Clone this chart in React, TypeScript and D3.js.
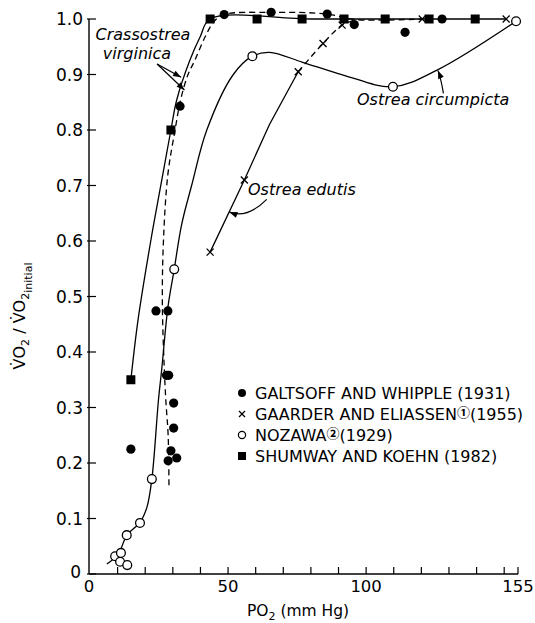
import React from 'react';
import * as d3 from 'd3';

const W = 535;
const H = 623;

// Tick values / labels
const xMajorTicks = [0, 50, 100, 155];
const xMajorLabels = ['0', '50', '100', '155'];
const xMinorTicks = [10, 20, 30, 40, 50, 60, 70, 80, 90, 100, 110, 120, 130, 140, 150, 155];
const yTicks = [0, 0.1, 0.2, 0.3, 0.4, 0.5, 0.6, 0.7, 0.8, 0.9, 1.0];
const yTickLabels = ['0', '0.1', '0.2', '0.3', '0.4', '0.5', '0.6', '0.7', '0.8', '0.9', '1.0'];

// Data points [PO2, VO2/VO2initial]
const galtsoff: [number, number][] = [
  [14.8, 0.225], [23.9, 0.474], [28.2, 0.474], [27.7, 0.358], [28.5, 0.358],
  [30.3, 0.308], [30.3, 0.263], [29.3, 0.222], [28.3, 0.204], [31.4, 0.209],
  [32.6, 0.843], [48.6, 1.008], [65.6, 1.012], [85.9, 1.009], [95.7, 0.99],
  [114.1, 0.976], [127.5, 1.0],
];
const gaarder: [number, number][] = [
  [43.5, 0.58], [55.9, 0.71], [75.4, 0.905], [84.4, 0.956], [91.3, 0.989],
  [120.3, 1.0], [150.7, 1.0],
];
const nozawa: [number, number][] = [
  [9.1, 0.032], [10.9, 0.022], [11.2, 0.038], [13.3, 0.07], [13.5, 0.016],
  [18.1, 0.092], [22.4, 0.171], [30.5, 0.549], [58.8, 0.933], [109.7, 0.878],
  [154.3, 0.996],
];
const shumway: [number, number][] = [
  [14.8, 0.35], [29.3, 0.8], [43.5, 1.0], [60.5, 1.0], [76.8, 1.0], [92, 1.0],
  [106.9, 1.0], [122.8, 1.0], [139.5, 1.0],
];

// Fitted curves
const crassostreaSolid: [number, number][] = [
  [14.8, 0.35], [17.4, 0.458], [22, 0.6], [26, 0.71], [29.3, 0.8], [31.4, 0.854],
  [36.2, 0.926], [39.9, 0.968], [43.5, 1.0], [80, 1.0], [120, 1.0], [150.7, 1.0],
];
const crassostreaDashed: [number, number][] = [
  [28.6, 0.16], [28.3, 0.25], [27.5, 0.31], [26.9, 0.37], [26.2, 0.49], [26.6, 0.6],
  [28.2, 0.72], [30.8, 0.8], [32.8, 0.854], [35.5, 0.9], [38, 0.926], [41.7, 0.968],
  [45, 0.996], [48.6, 1.008], [65.6, 1.012], [85.9, 1.009], [96, 0.999], [120.3, 1.0],
];
const edulisSolid: [number, number][] = [
  [43.5, 0.58], [55.9, 0.71], [65, 0.81], [75.4, 0.905],
];
const edulisDashed: [number, number][] = [
  [75.4, 0.905], [84.4, 0.956], [91.3, 0.989], [96, 0.998],
];
const nozawaCurve: [number, number][] = [
  [6.1, 0.018], [10.2, 0.036], [13.4, 0.07], [18.1, 0.093], [20.6, 0.12], [22.4, 0.171],
  [24.8, 0.314], [26, 0.37], [28.2, 0.48], [30.5, 0.549], [33.2, 0.63], [36.8, 0.7],
  [42.3, 0.8], [51.9, 0.9], [58.8, 0.933], [65, 0.94], [77, 0.922], [91.7, 0.899],
  [109.7, 0.878], [125.7, 0.908], [154.3, 0.996],
];

const legendLabels = [
  'GALTSOFF AND WHIPPLE (1931)',
  'GAARDER AND ELIASSEN',
  'NOZAWA',
  'SHUMWAY AND KOEHN (1982)',
];

const FONT = '"DejaVu Sans", "Noto Sans", sans-serif';

export default function App() {
  const x = d3.scaleLinear().domain([0, 155]).range([90, 518]);
  const y = d3.scaleLinear().domain([0, 1]).range([574, 19]);
  const line = d3
    .line<[number, number]>()
    .x((d) => x(d[0]))
    .y((d) => y(d[1]))
    .curve(d3.curveCatmullRom.alpha(0.5));
  const straight = d3
    .line<[number, number]>()
    .x((d) => x(d[0]))
    .y((d) => y(d[1]));

  const sw = 1.3;
  const cross = (cx: number, cy: number, s: number, key: string) => (
    <g key={key} stroke="#000" strokeWidth={1.3}>
      <line x1={cx - s} y1={cy - s} x2={cx + s} y2={cy + s} />
      <line x1={cx - s} y1={cy + s} x2={cx + s} y2={cy - s} />
    </g>
  );

  // annotation helpers (data coords)
  const P = (a: number, b: number) => [x(a), y(b)] as [number, number];
  const arrowHead = (tip: [number, number], from: [number, number], len = 8, wid = 3) => {
    const dx = tip[0] - from[0];
    const dy = tip[1] - from[1];
    const L = Math.hypot(dx, dy);
    const ux = dx / L, uy = dy / L;
    const bx = tip[0] - ux * len, by = tip[1] - uy * len;
    return `M${tip[0]},${tip[1]}L${bx - uy * wid},${by + ux * wid}L${bx + uy * wid},${by - ux * wid}Z`;
  };

  const cvStart = P(24.3, 0.919);
  const cvEnd1 = P(33.0, 0.895);
  const cvEnd2 = P(34.2, 0.872);

  const edA = P(64.0, 0.675);
  const edC = P(57.0, 0.64);
  const edTip = P(50.5, 0.652);

  const ocA = P(128.0, 0.866);
  const ocC = P(127.0, 0.895);
  const ocTip = P(126.0, 0.907);

  const legendY = [393, 414, 435, 456];
  const legendX = 242;
  const circFont = '"Noto Sans CJK SC", "DejaVu Sans", sans-serif';

  return (
    <svg
      width={W}
      height={H}
      style={{ position: 'absolute', left: 0, top: 0, background: '#fff' }}
      fontFamily={FONT}
    >
      <rect width={W} height={H} fill="#fff" />
      {/* axes */}
      <line x1={x(0) - 1} y1={y(0)} x2={x(155)} y2={y(0)} stroke="#000" strokeWidth={1.4} />
      <line x1={x(0) - 1} y1={y(0)} x2={x(0) - 1} y2={y(1)} stroke="#000" strokeWidth={1.4} />
      {xMinorTicks.map((t) => (
        <line key={'xt' + t} x1={x(t)} x2={x(t)} y1={y(0)} y2={y(0) - 7} stroke="#000" strokeWidth={1.2} />
      ))}
      {yTicks.map((t) => (
        <line key={'yt' + t} x1={x(0) - 3} x2={x(0) + 6} y1={y(t)} y2={y(t)} stroke="#000" strokeWidth={1.2} />
      ))}
      {yTicks.map((t, i) =>
        i === 0 ? (
          <text key={'yl' + t} x={x(0) - 9} y={y(t) - 2} textAnchor="end" dominantBaseline="central" fontSize={17}>
            {yTickLabels[i]}
          </text>
        ) : (
          <text key={'yl' + t} x={x(0) - 7} y={y(t)} textAnchor="end" dominantBaseline="central" fontSize={17}>
            {yTickLabels[i]}
          </text>
        )
      )}
      {xMajorTicks.map((t, i) => (
        <text key={'xl' + t} x={x(t) + (i === 0 ? -1 : 0)} y={y(0) + 12} textAnchor="middle" dominantBaseline="central" fontSize={16.5}>
          {xMajorLabels[i]}
        </text>
      ))}

      {/* axis titles */}
      <text x={298} y={616} textAnchor="middle" fontSize={15.5}>
        PO<tspan fontSize={11} dy={4}>2</tspan>
        <tspan dy={-4}> (mm Hg)</tspan>
      </text>
      <text transform="translate(25,316) rotate(-90)" textAnchor="middle" fontSize={16}>
        {'V\u0307O'}
        <tspan fontSize={11} dy={4}>2</tspan>
        <tspan dy={-4}>{' / V\u0307O'}</tspan>
        <tspan fontSize={11} dy={4}>2</tspan>
        <tspan fontSize={11} dy={3}>initial</tspan>
      </text>

      {/* curves */}
      <g fill="none" stroke="#000" strokeWidth={sw}>
        <path d={line(crassostreaSolid) || ''} />
        <path d={line(crassostreaDashed) || ''} strokeDasharray="6,4" />
        <path d={straight(edulisSolid) || ''} />
        <path d={line(edulisDashed) || ''} strokeDasharray="6,4" />
        <path d={line(nozawaCurve) || ''} />
      </g>

      {/* points */}
      {shumway.map((d, i) => (
        <rect key={'s' + i} x={x(d[0]) - 4.5} y={y(d[1]) - 4.5} width={9} height={9} fill="#000" />
      ))}
      {galtsoff.map((d, i) => (
        <circle key={'g' + i} cx={x(d[0])} cy={y(d[1])} r={4.6} fill="#000" />
      ))}
      {nozawa.map((d, i) => (
        <circle key={'n' + i} cx={x(d[0])} cy={y(d[1])} r={4.4} fill="#fff" stroke="#000" strokeWidth={1.3} />
      ))}
      {gaarder.map((d, i) => cross(x(d[0]), y(d[1]), 3.5, 'c' + i))}

      {/* annotations */}
      <g fontStyle="italic" fontSize={16} fill="#000">
        <text x={143} y={40} textAnchor="middle">Crassostrea</text>
        <text x={137} y={59} textAnchor="middle">virginica</text>
        <text x={248} y={195}>Ostrea edutis</text>
        <text x={357} y={105}>Ostrea circumpicta</text>
      </g>
      <g stroke="#000" strokeWidth={1.2} fill="none">
        <line x1={cvStart[0]} y1={cvStart[1]} x2={cvEnd1[0]} y2={cvEnd1[1]} />
        <line x1={cvStart[0]} y1={cvStart[1]} x2={cvEnd2[0]} y2={cvEnd2[1]} />
        <path d={`M${edA[0]},${edA[1]}Q${edC[0]},${edC[1]} ${edTip[0]},${edTip[1]}`} />
        <path d={`M${ocA[0]},${ocA[1]}Q${ocC[0]},${ocC[1]} ${ocTip[0]},${ocTip[1]}`} />
      </g>
      <g fill="#000">
        <path d={arrowHead(cvEnd1, cvStart)} />
        <path d={arrowHead(cvEnd2, cvStart)} />
        <path d={arrowHead(edTip, edC)} />
        <path d={arrowHead(ocTip, ocC)} />
      </g>

      {/* legend */}
      <g>
        <circle cx={legendX} cy={legendY[0]} r={4} fill="#000" />
        {cross(legendX, legendY[1], 3, 'lc')}
        <circle cx={legendX} cy={legendY[2]} r={3.6} fill="#fff" stroke="#000" strokeWidth={1.2} />
        <rect x={legendX - 4} y={legendY[3] - 4} width={8} height={8} fill="#000" />
        <text x={255} y={legendY[0]} dominantBaseline="central" fontSize={16}>{legendLabels[0]}</text>
        <text x={255} y={legendY[1]} dominantBaseline="central" fontSize={16}>
          {legendLabels[1]}
          <tspan fontSize={13} dy={-3} fontWeight="bold" fontFamily={circFont}>{'\u2460'}</tspan>
          <tspan dy={3}>(1955)</tspan>
        </text>
        <text x={255} y={legendY[2]} dominantBaseline="central" fontSize={16}>
          {legendLabels[2]}
          <tspan fontSize={13} dy={-3} fontWeight="bold" fontFamily={circFont}>{'\u2461'}</tspan>
          <tspan dy={3}>(1929)</tspan>
        </text>
        <text x={255} y={legendY[3]} dominantBaseline="central" fontSize={16}>{legendLabels[3]}</text>
      </g>
    </svg>
  );
}
